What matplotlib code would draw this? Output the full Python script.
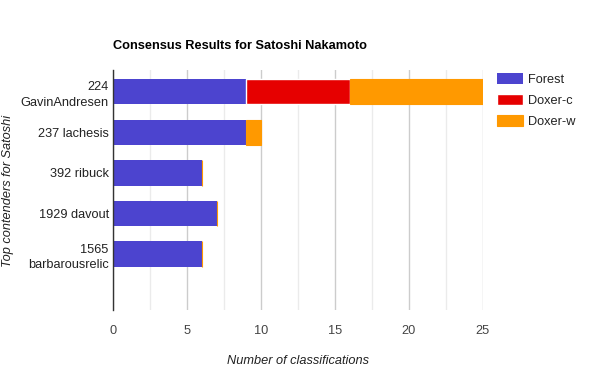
import matplotlib
matplotlib.use("Agg")
import matplotlib.pyplot as plt
import numpy as np

plt.rcParams['font.family'] = ['Liberation Sans', 'DejaVu Sans']

categories = ["224\nGavinAndresen", "237 lachesis", "392 ribuck", "1929 davout", "1565\nbarbarousrelic"]
forest = [9, 9, 6, 7, 6]
doxer_c = [7, 0, 0, 0, 0]
doxer_w = [9, 1, 0, 0, 0]
series_names = ["Forest", "Doxer-c", "Doxer-w"]
colors = ["#4C44CF", "#E60000", "#FF9900"]
xticks = [0, 5, 10, 15, 20, 25]

FS = 9.2
fig = plt.figure(figsize=(5.96, 3.86), dpi=100)
W, H = 596, 386
ax = fig.add_axes([113 / W, 1 - 310 / H, (483 - 113) / W, (310 - 70) / H])

y = np.arange(len(categories))
h = 0.62
ax.barh(y, forest, height=h, color=colors[0], label=series_names[0], linewidth=0, zorder=3)
left2 = np.array(forest)
ax.barh(y, doxer_c, left=left2, height=h, color=colors[1], label=series_names[1],
        edgecolor='white', linewidth=[1 if v > 0 else 0 for v in doxer_c], zorder=3)
left3 = left2 + np.array(doxer_c)
ax.barh(y, doxer_w, left=left3, height=h, color=colors[2], label=series_names[2],
        edgecolor=colors[2], linewidth=0.8, zorder=3)

ax.set_xlim(0, 25)
ax.set_ylim(5.38, -0.54)
ax.set_xticks(xticks)
ax.set_xticks([2.5, 7.5, 12.5, 17.5, 22.5], minor=True)
ax.grid(axis='x', which='major', color='#CCCCCC', linewidth=1, zorder=0)
ax.grid(axis='x', which='minor', color='#EBEBEB', linewidth=1, zorder=0)
ax.set_yticks(y)
ax.set_yticklabels(categories, fontsize=FS, color='#222222', linespacing=1.35)
ax.tick_params(axis='x', labelsize=FS, labelcolor='#444444', length=0, pad=11)
ax.tick_params(axis='y', length=0, pad=3)
ax.tick_params(which='minor', length=0)
for s in ['top', 'right', 'bottom']:
    ax.spines[s].set_visible(False)
ax.spines['left'].set_color('#333333')
ax.spines['left'].set_linewidth(1)
ax.spines['left'].set_zorder(5)

fig.text(113 / W, 1 - 46 / H, "Consensus Results for Satoshi Nakamoto", fontsize=FS,
         fontweight='bold', color='#000000', ha='left', va='center')
fig.text(298 / W, 1 - 361 / H, "Number of classifications", fontsize=FS, style='italic',
         color='#222222', ha='center', va='center')
fig.text(8 / W, 1 - 191 / H, "Top contenders for Satoshi", fontsize=FS, style='italic',
         color='#222222', ha='center', va='center', rotation=90)

leg = fig.legend(loc='upper left', bbox_to_anchor=(497 / W, 1 - 73 / H), frameon=False,
                 fontsize=FS, handlelength=2.05, handleheight=0.95, handletextpad=0.4,
                 labelspacing=0.65, borderaxespad=0, borderpad=0)
for t in leg.get_texts():
    t.set_color('#222222')

fig.savefig("out.png", dpi=100)
